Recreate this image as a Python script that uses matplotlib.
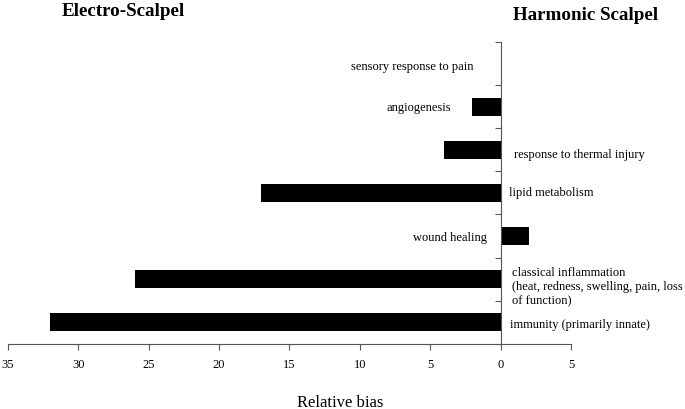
import matplotlib
matplotlib.use("Agg")
import matplotlib.pyplot as plt
from matplotlib.ticker import FuncFormatter

# categories bottom -> top, bias > 0 means favoured by electro-scalpel (left side)
categories = [
    "immunity (primarily innate)",
    "classical inflammation\n(heat, redness, swelling, pain, loss\nof function)",
    "wound healing",
    "lipid metabolism",
    "response to thermal injury",
    "angiogenesis",
    "sensory response to pain",
]
bias = [32, 26, -2, 17, 4, 2, 0]
xticks = [35, 30, 25, 20, 15, 10, 5, 0, -5]

plt.rcParams["font.family"] = ["Liberation Serif", "DejaVu Serif"]

fig = plt.figure(figsize=(6.85, 4.10), dpi=100)
ax = fig.add_axes([0.0117, 0.159, 0.8217, 0.736])

ypos = list(range(len(categories)))
ax.barh(ypos, bias, height=0.41, color="black")

ax.set_xlim(35, -5)
ax.set_ylim(-0.5, len(categories) - 0.5)
ax.set_xticks(xticks)
ax.xaxis.set_major_formatter(FuncFormatter(lambda v, p: f"{abs(v):g}"))
ax.set_yticks([i - 0.5 for i in range(len(categories) + 1)])
ax.set_yticklabels([])

for s in ["top", "right"]:
    ax.spines[s].set_visible(False)
ax.spines["left"].set_position(("data", 0))
for s in ["left", "bottom"]:
    ax.spines[s].set_color("#555555")
    ax.spines[s].set_linewidth(0.8)
ax.tick_params(axis="x", direction="out", length=4, width=0.8, color="#555555",
               labelsize=9, pad=6)
ax.tick_params(axis="y", direction="out", length=4, width=0.8, color="#555555")

# label placement: (anchor at bar end?, x offset pt, y offset pt, alignment)
place = {
    0: (False, 6.5, -1, "left"),
    1: (False, 8.6, -5, "left"),
    2: (False, -9.6, -0.5, "right"),
    3: (False, 6, 0.5, "left"),
    4: (False, 10, -3, "left"),
    5: (True, -15, 0, "right"),
    6: (False, -19.4, -2, "right"),
}
for i, (cat, b) in enumerate(zip(categories, bias)):
    at_end, dx, dy, ha = place[i]
    x = b if at_end else 0
    ax.annotate(cat, (x, i), xytext=(dx, dy), textcoords="offset points",
                ha=ha, va="center", fontsize=9, linespacing=1.2)

fig.text(0.09, 0.972, "Electro-Scalpel", fontsize=13.7, fontweight="bold", va="center")
fig.text(0.749, 0.962, "Harmonic Scalpel", fontsize=13.7, fontweight="bold", va="center")
fig.text(0.496, 0.018, "Relative bias", fontsize=12, ha="center", va="center")

fig.savefig("out.png", dpi=100)
